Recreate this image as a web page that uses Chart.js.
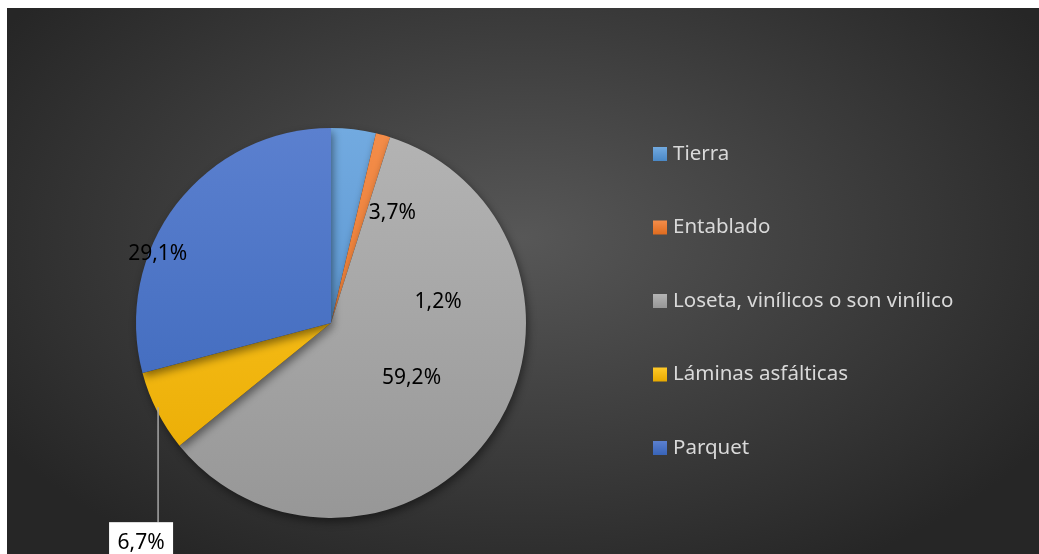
<!DOCTYPE html>
<html>
<head>
<meta charset="utf-8">
<script src="https://cdn.jsdelivr.net/npm/chart.js@4.4.0/dist/chart.umd.min.js"></script>
<style>
  html, body { margin: 0; padding: 0; background: #fff; }
  #wrap {
    position: absolute; left: 7px; top: 8px; width: 1032px; height: 546px;
    background: radial-gradient(ellipse 60% 70% at 50% 42%, #575757 0%, #3c3c3c 55%, #262626 100%);
  }
  canvas { display: block; }
</style>
</head>
<body>
<div id="wrap"><canvas id="grafico" width="1032" height="546"></canvas></div>
<script>
const categorias = ["Tierra", "Entablado", "Loseta, vinílicos o son vinílico", "Láminas asfálticas", "Parquet"];
const valores = [3.7, 1.2, 59.2, 6.7, 29.1];
const etiquetas = ["3,7%", "1,2%", "59,2%", "6,7%", "29,1%"];
const coresTopo = ["#72aae0", "#f48d4a", "#b4b4b4", "#ffca28", "#5b80cf"];
const coresBase = ["#4a88c6", "#e06c1f", "#979797", "#e8a900", "#3864b8"];
// deslocamento do rótulo em relação ao centro da fatia (Excel moveu alguns)
const desloc = [[50, -13], [81, 73], [0, 0], [-103, 176], [-96, -10]];
const rotuloCaixa = [false, false, false, true, false];

function gradiente(ctx) {
    const chart = ctx.chart;
    const area = chart.chartArea;
    const i = ctx.dataIndex;
    if (!area) return coresTopo[i];
    const g = chart.ctx.createLinearGradient(0, area.top, 0, area.bottom);
    g.addColorStop(0, coresTopo[i]);
    g.addColorStop(1, coresBase[i]);
    return g;
}

const sombra = {
    id: "sombra",
    beforeDatasetsDraw(chart) {
        const c = chart.ctx;
        c.save();
        c.shadowColor = "rgba(0,0,0,0.45)";
        c.shadowBlur = 9;
        c.shadowOffsetX = 2;
        c.shadowOffsetY = 4;
    },
    afterDatasetsDraw(chart) {
        chart.ctx.restore();
    }
};

const rotulos = {
    id: "rotulos",
    afterDraw(chart) {
        const c = chart.ctx;
        const meta = chart.getDatasetMeta(0);
        c.save();
        c.font = "21px 'Noto Sans'";
        c.textAlign = "center";
        c.textBaseline = "middle";
        meta.data.forEach((arc, i) => {
            const p = arc.tooltipPosition();
            const x = p.x + desloc[i][0];
            const y = p.y + desloc[i][1];
            if (rotuloCaixa[i]) {
                const lx = x + 17;
                const r = arc.outerRadius;
                const dy = Math.sqrt(Math.max(r * r - (lx - arc.x) * (lx - arc.x), 0));
                c.strokeStyle = "#a6a6a6";
                c.lineWidth = 1.5;
                c.beginPath();
                c.moveTo(lx, arc.y + dy - 6);
                c.lineTo(lx, y - 21);
                c.stroke();
                c.fillStyle = "#ffffff";
                c.fillRect(x - 32, y - 21, 64, 44);
            }
            c.fillStyle = "#000000";
            c.fillText(etiquetas[i], x, y);
        });
        c.restore();

        // legenda
        c.save();
        c.font = "20.5px 'Noto Sans'";
        c.textAlign = "left";
        c.textBaseline = "middle";
        categorias.forEach((nome, i) => {
            const y = 146 + i * 73.5;
            const g = c.createLinearGradient(0, y - 7, 0, y + 7);
            g.addColorStop(0, coresTopo[i]);
            g.addColorStop(1, coresBase[i]);
            c.fillStyle = g;
            c.fillRect(646, y - 7, 14, 14);
            c.fillStyle = "#d9d9d9";
            c.fillText(nome, 666, y);
        });
        c.restore();
    }
};

new Chart(document.getElementById("grafico"), {
    type: "pie",
    data: {
        labels: categorias,
        datasets: [{
            data: valores,
            backgroundColor: gradiente,
            borderWidth: 0
        }]
    },
    options: {
        responsive: false,
        animation: false,
        layout: { padding: { left: 129, right: 513, top: 120, bottom: 36 } },
        plugins: {
            legend: { display: false },
            tooltip: { enabled: false }
        }
    },
    plugins: [sombra, rotulos]
});
</script>
</body>
</html>
